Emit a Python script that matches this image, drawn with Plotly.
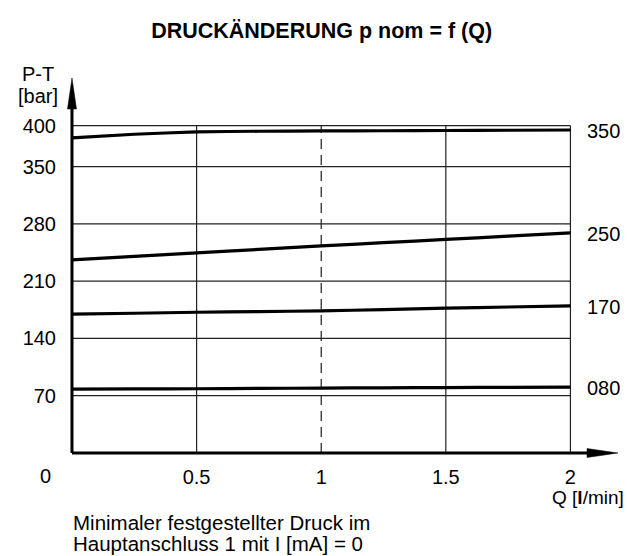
import plotly.graph_objects as go

# ---------------- data ----------------
Q = [0.0, 0.25, 0.5, 0.75, 1.0, 1.25, 1.5, 1.75, 2.0]
p350 = [385.0, 389.5, 392.3, 393.2, 393.6, 393.8, 394.1, 394.4, 394.7]
p250 = [236.0, 240.3, 244.6, 248.8, 253.0, 257.0, 261.0, 265.0, 269.0]
p170 = [169.7, 170.8, 172.0, 172.8, 173.7, 175.3, 177.0, 178.4, 179.8]
p080 = [78.0, 78.3, 78.5, 78.9, 79.3, 79.7, 80.0, 80.3, 80.6]
series = [p350, p250, p170, p080]
series_labels = ["350", "250", "170", "080"]

y_ticks = [70, 140, 210, 280, 350, 400]
x_ticks = [0.5, 1.0, 1.5, 2.0]
x_ticklabels = ["0.5", "1", "1.5", "2"]
x_solid_grid = [0.5, 1.5, 2.0]
x_dashed_grid = [1.0]

title = "<b>DRUCKÄNDERUNG p nom = f (Q)</b>"
y_title_lines = ["P-T", "[bar]"]
x_title = "Q [<b>l</b>/min]"
note_lines = ["Minimaler festgestellter Druck im", "Hauptanschluss 1 mit I [mA] = 0"]

# ---------------- layout geometry ----------------
W, H = 627, 556
FONT = "Liberation Sans, Arial, sans-serif"
x0_px, y0_px = 72.0, 453.3          # pixel of origin
sx = 249.35                          # px per l/min
sy = 0.819                           # px per bar
left_px, bottom_px = 62.0, 463.3     # plot area edges
tip_x_px, tip_y_px = 618.3, 78.0     # arrow tips

xmin = -(x0_px - left_px) / sx
xmax = (tip_x_px - x0_px) / sx
ymin = -(bottom_px - y0_px) / sy
ymax = (y0_px - tip_y_px) / sy

ml = left_px
mr = W - tip_x_px
mt = tip_y_px
mb = H - bottom_px

arrow_len, arrow_half = 31, 4.5
grid_top = max(y_ticks)
grid_right = max(x_ticks)

fig = go.Figure()

for s in series:
    fig.add_trace(go.Scatter(x=Q, y=s, mode="lines",
                             line=dict(color="black", width=3.2, shape="spline", smoothing=0.6),
                             hoverinfo="skip", showlegend=False))

shapes = []
for yv in y_ticks:
    shapes.append(dict(type="line", xref="x", yref="y", x0=0, x1=grid_right, y0=yv, y1=yv,
                       line=dict(color="#222", width=1.2), layer="below"))
for xv in x_solid_grid:
    shapes.append(dict(type="line", xref="x", yref="y", x0=xv, x1=xv, y0=0, y1=grid_top,
                       line=dict(color="#222", width=1.2), layer="below"))
for xv in x_dashed_grid:
    shapes.append(dict(type="line", xref="x", yref="y", x0=xv, x1=xv, y0=0, y1=grid_top,
                       line=dict(color="#222", width=1.2, dash="10px,6px"), layer="below"))
# axes
shapes.append(dict(type="line", xref="x", yref="y", x0=0, x1=0, y0=0,
                   y1=ymax - arrow_len / sy, line=dict(color="black", width=3)))
shapes.append(dict(type="line", xref="x", yref="y", x0=0, x1=xmax - arrow_len / sx,
                   y0=0, y1=0, line=dict(color="black", width=3)))
# arrow heads
shapes.append(dict(type="path", xref="x", yref="y", xsizemode="pixel", ysizemode="pixel",
                   xanchor=0, yanchor=ymax,
                   path=f"M{-arrow_half},{-arrow_len} L{arrow_half},{-arrow_len} L0,0 Z",
                   fillcolor="black", line=dict(color="black", width=0.5)))
shapes.append(dict(type="path", xref="x", yref="y", xsizemode="pixel", ysizemode="pixel",
                   xanchor=xmax, yanchor=0,
                   path=f"M{-arrow_len},{-arrow_half} L{-arrow_len},{arrow_half} L0,0 Z",
                   fillcolor="black", line=dict(color="black", width=0.5)))

def txt(text, size):
    return dict(text=text, showarrow=False, font=dict(family=FONT, size=size, color="black"))

annotations = []
for s, lab in zip(series, series_labels):
    annotations.append(dict(x=Q[-1], y=s[-1], xref="x", yref="y", xanchor="left",
                            yanchor="middle", xshift=15, yshift=-1, **txt(lab, 20)))
annotations.append(dict(x=0, y=0, xref="x", yref="y", xanchor="center", yanchor="middle",
                        xshift=-26, yshift=-23, **txt("0", 20)))
annotations.append(dict(x=0, y=ymax, xref="x", yref="y", xanchor="center", yanchor="middle",
                        xshift=-34, yshift=4, **txt(y_title_lines[0], 20)))
annotations.append(dict(x=0, y=ymax, xref="x", yref="y", xanchor="center", yanchor="middle",
                        xshift=-34, yshift=-18, **txt(y_title_lines[1], 20)))
annotations.append(dict(x=1.0, y=0, xref="paper", yref="y", xanchor="right", yanchor="middle",
                        xshift=8, yshift=-44, **txt(x_title, 19)))
annotations.append(dict(x=0, y=0, xref="x", yref="y", xanchor="left", yanchor="middle",
                        xshift=-1, yshift=-69, **txt(note_lines[0], 20.5)))
annotations.append(dict(x=0, y=0, xref="x", yref="y", xanchor="left", yanchor="middle",
                        xshift=-1, yshift=-90, **txt(note_lines[1], 20.5)))

fig.update_layout(
    template="none",
    width=W, height=H,
    margin=dict(l=ml, r=mr, t=mt, b=mb, pad=0, autoexpand=False),
    paper_bgcolor="white", plot_bgcolor="white",
    title=dict(text=title, x=0.513, xanchor="center", y=1 - 30 / H, yanchor="middle",
               font=dict(family=FONT, size=21.5, color="black")),
    xaxis=dict(range=[xmin, xmax], showgrid=False, zeroline=False, showline=False,
               automargin=False,
               tickmode="array", tickvals=x_ticks, ticktext=x_ticklabels, ticks="",
               ticklabelstandoff=0,
               tickfont=dict(family=FONT, size=20, color="black"), fixedrange=True),
    yaxis=dict(range=[ymin, ymax], showgrid=False, zeroline=False, showline=False,
               automargin=False,
               tickmode="array", tickvals=y_ticks, ticks="", ticklabelstandoff=5,
               tickfont=dict(family=FONT, size=20, color="black"), fixedrange=True),
    shapes=shapes, annotations=annotations,
)

fig.write_html("out.html", config={"displayModeBar": False},
               post_script="document.body.style.margin='0';document.body.style.overflow='hidden';")
